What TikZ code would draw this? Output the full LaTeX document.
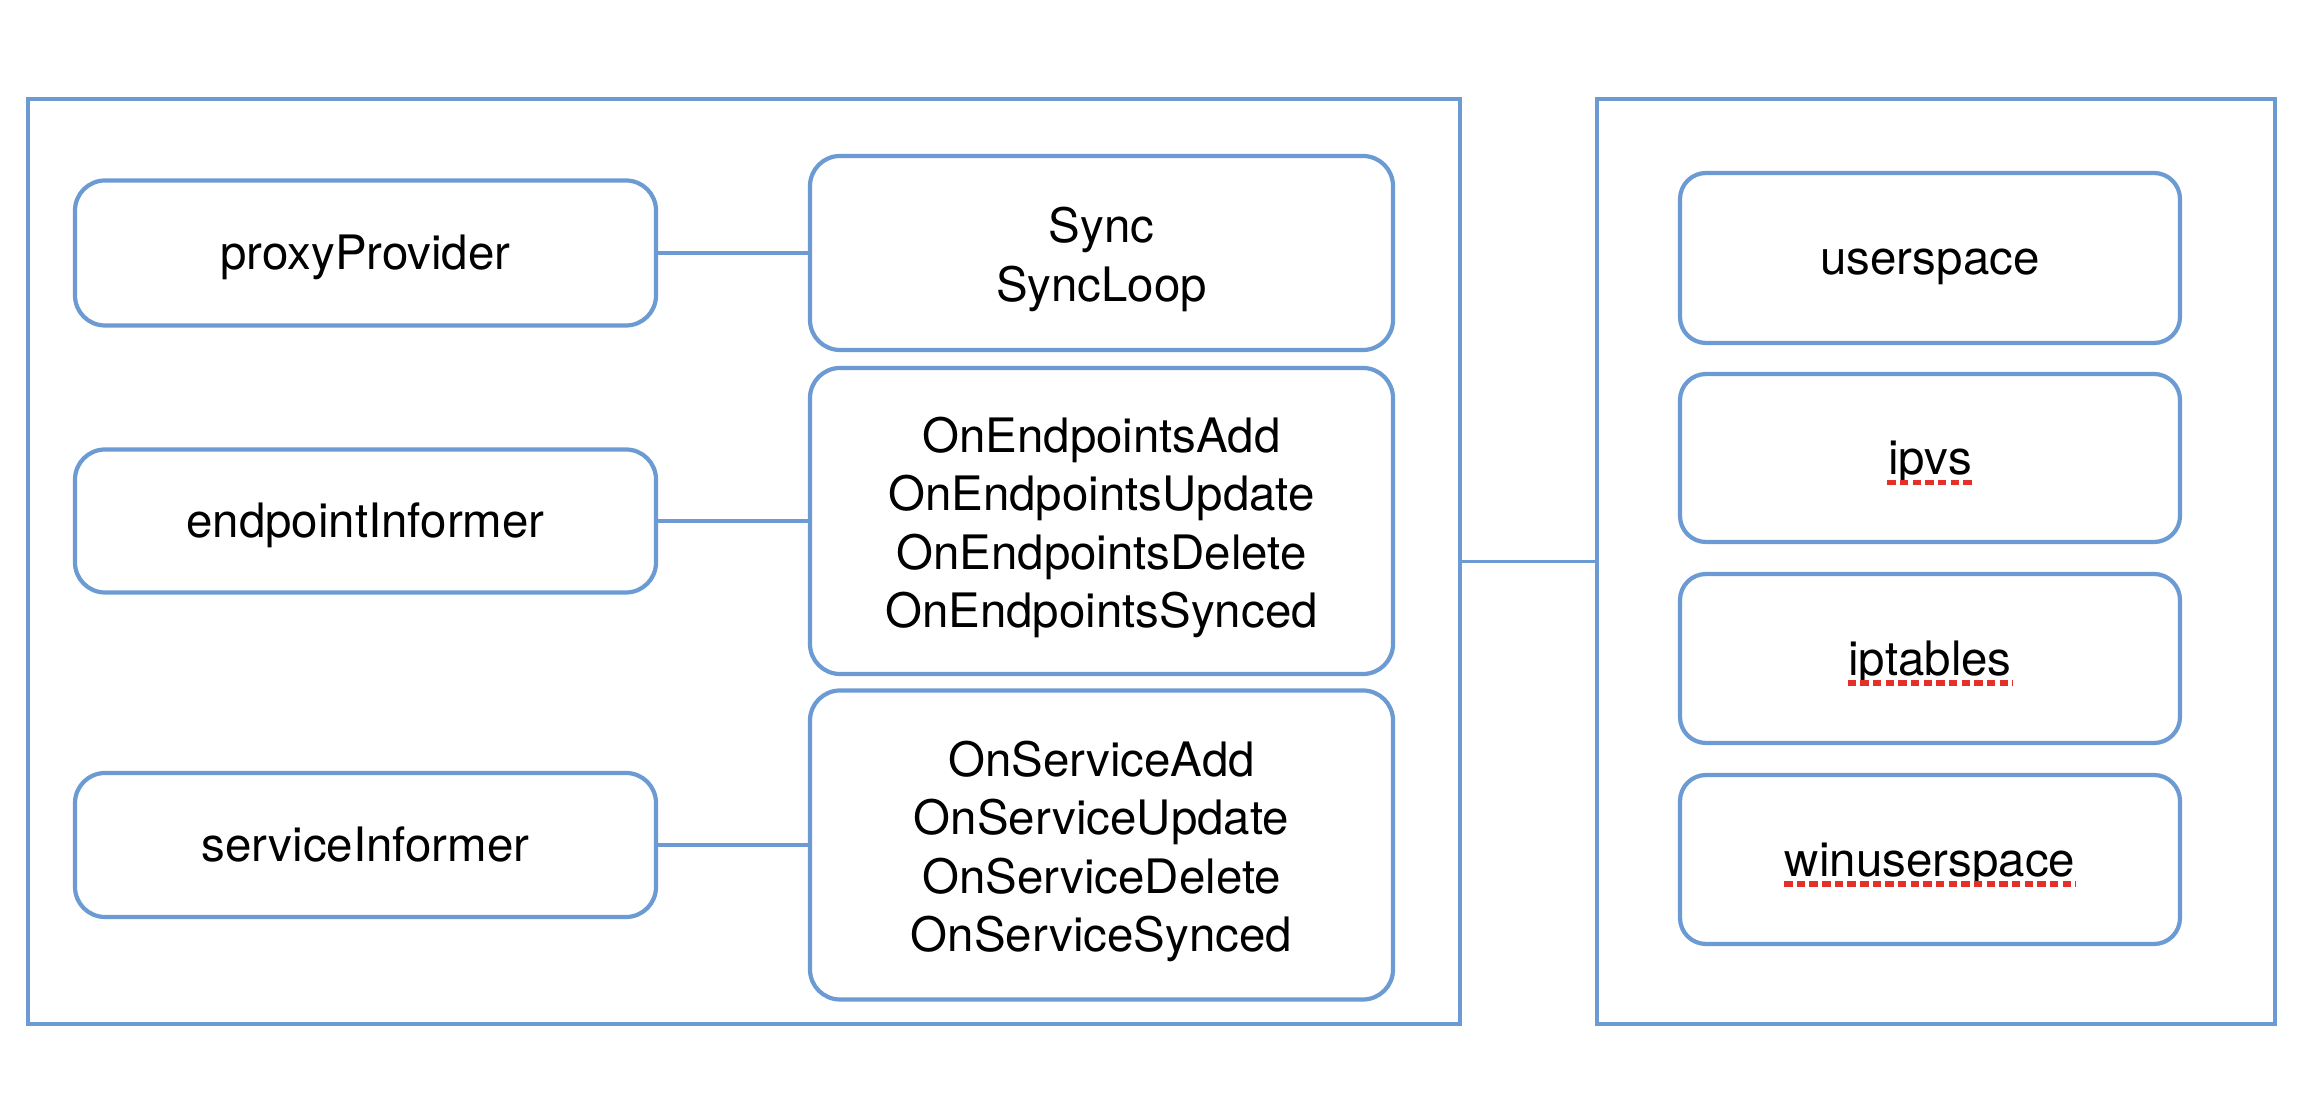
\documentclass[tikz,border=0pt]{standalone}
\usepackage{fontspec}
\setmainfont{TeX Gyre Heros}
\definecolor{boxblue}{RGB}{108,155,212}
\definecolor{spellred}{RGB}{228,48,40}
\newcommand{\lift}{\rule{0pt}{13.8pt}}

\begin{document}
\begin{tikzpicture}[
  outer/.style={draw=boxblue, line width=0.9pt},
  box/.style={draw=boxblue, line width=1.2pt, rounded corners=0.3cm, align=center, font=\fontsize{13.5}{16.6}\selectfont,
    execute at begin node={\rule{0pt}{12.6pt}}, execute at end node={\rule[-3pt]{0pt}{3pt}}},
  word/.style={inner sep=0pt, text height=12.6pt, text depth=3pt, font=\fontsize{13.5}{16.6}\selectfont},
  link/.style={draw=boxblue, line width=1.1pt},
  spell/.style={draw=spellred, line width=1.6pt, dash pattern=on 2.4pt off 1.2pt}
]
  \useasboundingbox (0,0) rectangle (23.06,-10.98);
  % frames
  \node[outer, minimum width=14.32cm, minimum height=9.25cm] (proxier) at (7.44,-5.615) {};
  \node[outer, minimum width=6.78cm, minimum height=9.25cm] (modes) at (19.36,-5.615) {};
  % informers
  \node[box, minimum width=5.81cm, minimum height=1.45cm] (provider) at (3.655,-2.53) {proxyProvider};
  \node[box, minimum width=5.81cm, minimum height=1.43cm] (epinf) at (3.655,-5.21) {endpointInformer};
  \node[box, minimum width=5.81cm, minimum height=1.44cm] (svcinf) at (3.655,-8.45) {serviceInformer};
  % handlers
  \node[box, minimum width=5.83cm, minimum height=1.94cm] (sync) at (11.015,-2.53) {\lift Sync\\SyncLoop};
  \node[box, minimum width=5.83cm, minimum height=3.06cm] (ephandler) at (11.015,-5.21) {\lift OnEndpointsAdd\\OnEndpointsUpdate\\OnEndpointsDelete\\OnEndpointsSynced};
  \node[box, minimum width=5.83cm, minimum height=3.09cm] (svchandler) at (11.015,-8.45) {\lift OnServiceAdd\\OnServiceUpdate\\OnServiceDelete\\OnServiceSynced};
  % proxy modes
  \node[box, rounded corners=0.26cm, minimum width=5cm, minimum height=1.70cm] (userspace) at (19.30,-2.58) {userspace};
  \node[box, rounded corners=0.26cm, minimum width=5cm, minimum height=1.68cm] (ipvs) at (19.30,-4.58) {};
  \node[box, rounded corners=0.26cm, minimum width=5cm, minimum height=1.69cm] (iptables) at (19.30,-6.585) {};
  \node[box, rounded corners=0.26cm, minimum width=5cm, minimum height=1.69cm] (winus) at (19.30,-8.595) {};
  \node[word] (ipvs-t) at (ipvs) {ipvs};
  \node[word] (iptables-t) at (iptables) {iptables};
  \node[word] (winus-t) at (winus) {winuserspace};
  % links
  \path[link] (provider) edge (sync);
  \path[link] (epinf) edge (ephandler);
  \path[link] (svcinf) edge (svchandler);
  \path[link] (proxier) edge (modes);
  % spell check marks
  \draw[spell] ([yshift=-0.075cm]ipvs-t.base west) -- ([yshift=-0.075cm]ipvs-t.base east);
  \draw[spell] ([yshift=-0.075cm]iptables-t.base west) -- ([yshift=-0.075cm]iptables-t.base east);
  \draw[spell] ([yshift=-0.075cm]winus-t.base west) -- ([yshift=-0.075cm]winus-t.base east);
\end{tikzpicture}
\end{document}
